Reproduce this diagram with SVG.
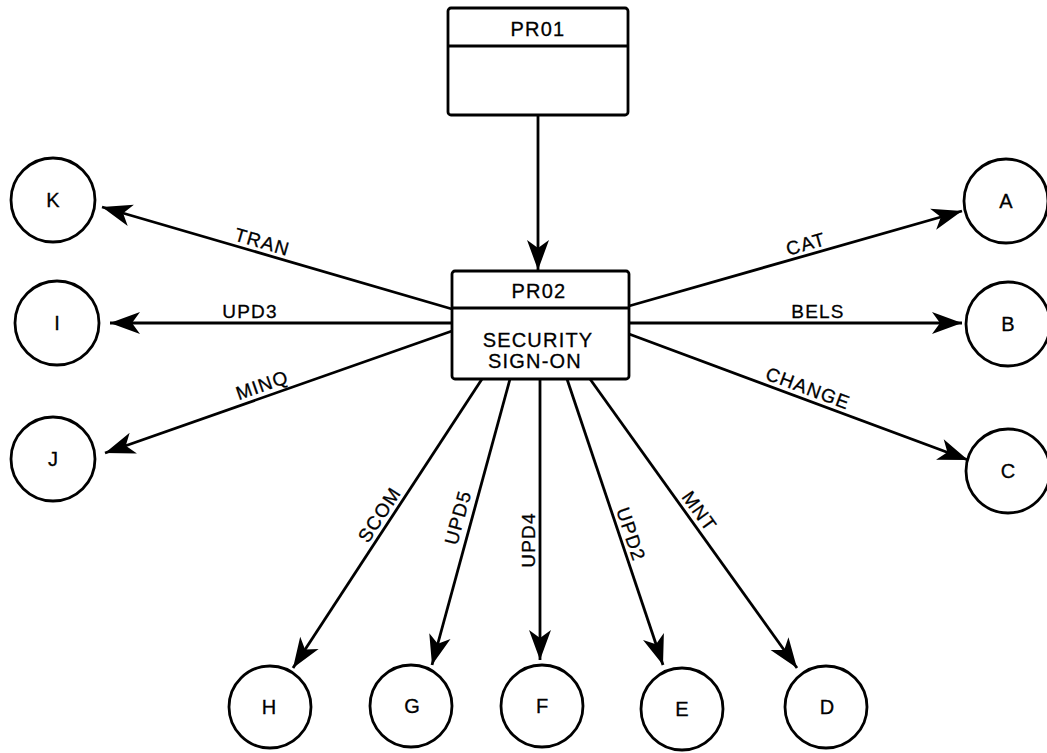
<svg xmlns="http://www.w3.org/2000/svg" width="1047" height="753" viewBox="0 0 1047 753">
<style>
.box{fill:#fff;stroke:#000;stroke-width:2.8}
.div{stroke:#000;stroke-width:2.8}
.node{fill:#fff;stroke:#000;stroke-width:2.8}
.t{font-family:"Liberation Sans",Arial,sans-serif;font-size:19px;letter-spacing:1.2px;fill:#000;stroke:#000;stroke-width:0.3;text-anchor:middle}
.c{font-family:"Liberation Sans",Arial,sans-serif;font-size:20px;fill:#000;stroke:#000;stroke-width:0.3;text-anchor:middle}
.bt{font-family:"Liberation Sans",Arial,sans-serif;font-size:20px;letter-spacing:1.2px;fill:#000;stroke:#000;stroke-width:0.3;text-anchor:middle}
.e{fill:none;stroke:#000;stroke-width:2.8;marker-end:url(#ah)}
</style>
<defs>
<marker id="ah" markerUnits="userSpaceOnUse" viewBox="-32 -13 34 26" refX="0" refY="0" markerWidth="34" markerHeight="26" orient="auto">
<path d="M0,0 L-30,-11 L-22,0 L-30,11 Z" fill="#000"/>
</marker>
</defs>
<rect width="1047" height="753" fill="#fff"/>
<g id="connectors">
<line class="e" x1="538" y1="116" x2="538" y2="270"/>
<line class="e" x1="452" y1="309" x2="102" y2="207"/>
<line class="e" x1="452" y1="323" x2="110" y2="323"/>
<line class="e" x1="452" y1="331" x2="105" y2="453"/>
<line class="e" x1="629" y1="306" x2="962" y2="211"/>
<line class="e" x1="629" y1="323" x2="962" y2="323"/>
<line class="e" x1="629" y1="334" x2="968" y2="460"/>
<line class="e" x1="482" y1="379" x2="293" y2="668"/>
<line class="e" x1="510" y1="379" x2="432" y2="665"/>
<line class="e" x1="540" y1="379" x2="540" y2="660"/>
<line class="e" x1="567" y1="379" x2="663" y2="665"/>
<line class="e" x1="590" y1="379" x2="797" y2="668"/>
<text class="t" transform="translate(259,253) rotate(16.25)" y="-5">TRAN</text>
<text class="t" transform="translate(250,323)" y="-5">UPD3</text>
<text class="t" transform="translate(266,396) rotate(-19.4)" y="-5">MINQ</text>
<text class="t" transform="translate(809,255) rotate(-15.9)" y="-5">CAT</text>
<text class="t" transform="translate(818,323)" y="-5">BELS</text>
<text class="t" transform="translate(804,399) rotate(20.4)" y="-5">CHANGE</text>
<text class="t" transform="translate(389,521) rotate(-56.8)" y="-5">SCOM</text>
<text class="t" transform="translate(471,521) rotate(-74.7)" y="-7">UPD5</text>
<text class="t" transform="translate(540,540) rotate(-90)" y="-5">UPD4</text>
<text class="t" transform="translate(620,538) rotate(71.4)" y="-5">UPD2</text>
<text class="t" transform="translate(690,518) rotate(54.4)" y="-5">MNT</text>
</g>
<g id="PR01">
<rect class="box" x="448" y="8" width="180" height="107" rx="3"/>
<line class="div" x1="448" y1="46" x2="628" y2="46"/>
<text class="bt" x="538" y="36">PR01</text>
</g>
<g id="PR02">
<rect class="box" x="452" y="271" width="177" height="108" rx="3"/>
<line class="div" x1="452" y1="308" x2="629" y2="308"/>
<text class="bt" x="539" y="298">PR02</text>
<text class="bt" x="538" y="347">SECURITY</text>
<text class="bt" x="535" y="368">SIGN-ON</text>
</g>
<g id="K"><circle class="node" cx="53" cy="200" r="42"/><text class="c" x="53" y="207">K</text></g>
<g id="I"><circle class="node" cx="57" cy="323" r="42"/><text class="c" x="57" y="330">I</text></g>
<g id="J"><circle class="node" cx="53" cy="459" r="42"/><text class="c" x="53" y="466">J</text></g>
<g id="A"><circle class="node" cx="1006" cy="201" r="42"/><text class="c" x="1006" y="208">A</text></g>
<g id="B"><circle class="node" cx="1008" cy="324" r="42"/><text class="c" x="1008" y="331">B</text></g>
<g id="C"><circle class="node" cx="1008" cy="471" r="42"/><text class="c" x="1008" y="478">C</text></g>
<g id="H"><circle class="node" cx="270" cy="707" r="41"/><text class="c" x="269" y="714">H</text></g>
<g id="G"><circle class="node" cx="411" cy="706" r="41"/><text class="c" x="412" y="713">G</text></g>
<g id="F"><circle class="node" cx="542" cy="706" r="41"/><text class="c" x="542" y="713">F</text></g>
<g id="E"><circle class="node" cx="682" cy="709" r="41"/><text class="c" x="682" y="716">E</text></g>
<g id="D"><circle class="node" cx="826" cy="707" r="41"/><text class="c" x="827" y="714">D</text></g>
</svg>
